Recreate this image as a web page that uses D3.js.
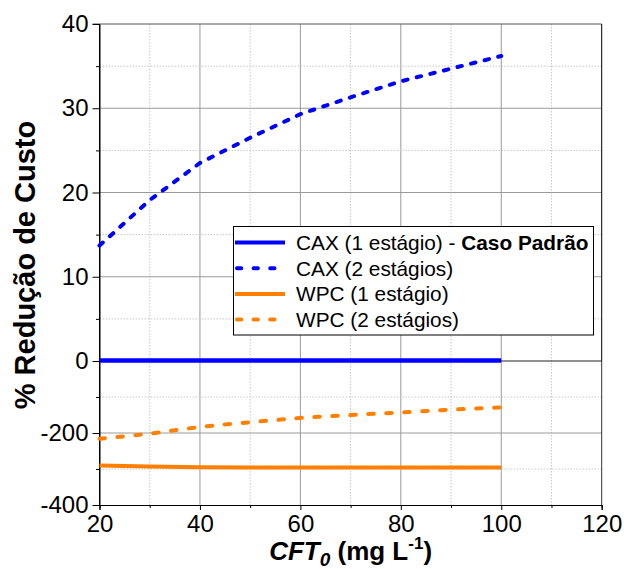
<!DOCTYPE html>
<html><head><meta charset="utf-8">
<script src="https://cdn.jsdelivr.net/npm/d3@7"></script>
<style>body{margin:0;background:#fff;}svg{display:block;}text{font-family:Arial,"Liberation Sans",sans-serif;fill:#000;}</style>
</head><body>
<svg id="c" width="624" height="569"></svg>
<script>
const xValues = [20, 30, 40, 50, 60, 70, 80, 90, 100];
const caxOne = [0, 0, 0, 0, 0, 0, 0, 0, 0];
const caxTwo = [13.7, 19.1, 23.5, 26.5, 29.3, 31.3, 33.2, 34.7, 36.2];
const wpcOne = [-290, -293, -295, -296, -296, -296, -296, -296, -296];
const wpcTwo = [-216, -202, -183, -170, -158, -150, -143, -135, -129];
const xTicks = [20, 40, 60, 80, 100, 120];
const xMinor = [30, 50, 70, 90, 110];
const topTicks = [0, 10, 20, 30, 40];
const topMinor = [5, 15, 25, 35];
const botTicks = [-400, -200];
const botMinor = [-300, -100];
const legendLabels = ["CAX (1 estágio) - ", "CAX (2 estágios)", "WPC (1 estágio)", "WPC (2 estágios)"];

const svg = d3.select("#c");
const L = 99.5, R = 601.7, T = 24, M = 361, B = 505;
const x = d3.scaleLinear().domain([20, 120]).range([L, R]);
const yT = d3.scaleLinear().domain([0, 40]).range([M, T]);
const yB = d3.scaleLinear().domain([-400, 0]).range([B, M]);
const fmt = d => String(d);

const g = svg.append("g");
// vertical gridlines
g.selectAll(".vmaj").data(xTicks.filter(d => d > 20 && d < 120)).join("line")
  .attr("x1", d => x(d)).attr("x2", d => x(d)).attr("y1", T).attr("y2", B)
  .attr("stroke", "#9a9a9a").attr("stroke-width", 1);
g.selectAll(".vmin").data(xMinor).join("line")
  .attr("x1", d => x(d)).attr("x2", d => x(d)).attr("y1", T).attr("y2", B)
  .attr("stroke", "#c8c8c8").attr("stroke-width", 1).attr("stroke-dasharray", "1.5,1.5");
// horizontal gridlines
g.selectAll(".htmaj").data([10, 20, 30]).join("line")
  .attr("x1", L).attr("x2", R).attr("y1", d => yT(d)).attr("y2", d => yT(d))
  .attr("stroke", "#9a9a9a");
g.selectAll(".htmin").data(topMinor).join("line")
  .attr("x1", L).attr("x2", R).attr("y1", d => yT(d)).attr("y2", d => yT(d))
  .attr("stroke", "#c8c8c8").attr("stroke-dasharray", "1.5,1.5");
g.selectAll(".hbmaj").data([-200]).join("line")
  .attr("x1", L).attr("x2", R).attr("y1", d => yB(d)).attr("y2", d => yB(d))
  .attr("stroke", "#9a9a9a");
g.selectAll(".hbmin").data(botMinor).join("line")
  .attr("x1", L).attr("x2", R).attr("y1", d => yB(d)).attr("y2", d => yB(d))
  .attr("stroke", "#c8c8c8").attr("stroke-dasharray", "1.5,1.5");

// frame
g.append("line").attr("x1", L - 7).attr("x2", R).attr("y1", T).attr("y2", T).attr("stroke", "#555");
g.append("line").attr("x1", R).attr("x2", R).attr("y1", T).attr("y2", M).attr("stroke", "#000");
g.append("line").attr("x1", R).attr("x2", R).attr("y1", M).attr("y2", B).attr("stroke", "#333");
g.append("line").attr("x1", L).attr("x2", R).attr("y1", M).attr("y2", M).attr("stroke", "#222");

// axes
const axL1 = d3.axisLeft(yT).tickValues(topTicks.filter(d => d > 0)).tickSize(7).tickPadding(4).tickFormat(fmt);
const axL2 = d3.axisLeft(yB).tickValues([...botTicks, 0]).tickSize(7).tickPadding(4).tickFormat(fmt);
const ga1 = svg.append("g").attr("transform", `translate(${L},0)`).call(axL1);
const ga2 = svg.append("g").attr("transform", `translate(${L},0)`).call(axL2);
svg.append("g").attr("transform", `translate(${L},0)`).call(d3.axisLeft(yT).tickValues(topMinor).tickSize(3.5).tickFormat(""));
svg.append("g").attr("transform", `translate(${L},0)`).call(d3.axisLeft(yB).tickValues(botMinor).tickSize(3.5).tickFormat(""));
const gx = svg.append("g").attr("transform", `translate(0,${B})`).call(d3.axisBottom(x).tickValues(xTicks).tickSize(5).tickPadding(5).tickFormat(fmt));
svg.append("g").attr("transform", `translate(0,${B})`).call(d3.axisBottom(x).tickValues(xMinor).tickSize(3).tickFormat(""));
svg.selectAll(".domain").attr("stroke", "#000");
svg.selectAll(".tick line").attr("stroke", "#000");
svg.selectAll(".tick text").style("font-size", "24px").style("font-family", "Arial, 'Liberation Sans', sans-serif").attr("fill", "#000");
ga1.select(".domain").remove();
ga2.select(".domain").remove();
svg.append("line").attr("x1", L).attr("x2", L).attr("y1", T).attr("y2", B).attr("stroke", "#000");

// data lines
const rows = xValues.map((d, i) => ({x: d, c1: caxOne[i], c2: caxTwo[i], w1: wpcOne[i], w2: wpcTwo[i]}));
const lineT = key => d3.line().x(d => x(d.x)).y(d => yT(d[key]));
const lineB = key => d3.line().x(d => x(d.x)).y(d => yB(d[key]));
const blue = "#0000ff", orange = "#ff8000";
svg.append("path").datum(rows).attr("d", lineB("w1")).attr("fill", "none").attr("stroke", orange).attr("stroke-width", 4);
svg.append("path").datum(rows).attr("d", lineB("w2")).attr("fill", "none").attr("stroke", orange).attr("stroke-width", 4)
  .attr("stroke-dasharray", "5.5,12.5").attr("stroke-linecap", "round");
svg.append("path").datum(rows).attr("d", lineT("c2")).attr("fill", "none").attr("stroke", blue).attr("stroke-width", 4)
  .attr("stroke-dasharray", "4.5,9.5").attr("stroke-linecap", "round");
svg.append("path").datum(rows).attr("d", lineT("c1")).attr("transform", "translate(0,-0.5)").attr("fill", "none").attr("stroke", blue).attr("stroke-width", 4.5);

// legend
const lg = svg.append("g");
lg.append("rect").attr("x", 233.5).attr("y", 226.5).attr("width", 360).attr("height", 108.5)
  .attr("fill", "#fff").attr("stroke", "#000").attr("stroke-width", 1);
const lstyles = [
  {c: blue, dash: null}, {c: blue, dash: "4.3,12.3"}, {c: orange, dash: null}, {c: orange, dash: "4.3,12.3"}
];
legendLabels.forEach((lab, i) => {
  const yy = 242.5 + i * 25.7;
  const ln = lg.append("line").attr("x1", lstyles[i].dash ? 237 : 235).attr("x2", lstyles[i].dash ? 283 : 285)
    .attr("y1", yy).attr("y2", yy).attr("stroke", lstyles[i].c).attr("stroke-width", 4);
  if (lstyles[i].dash) ln.attr("stroke-dasharray", lstyles[i].dash).attr("stroke-linecap", "round");
  const t = lg.append("text").attr("x", 296).attr("y", yy + 7.3).style("font-size", "20.8px");
  t.append("tspan").text(lab);
  if (i === 0) t.append("tspan").style("font-weight", "bold").text("Caso Padrão");
});

// axis titles
svg.append("text").attr("transform", "translate(35,265) rotate(-90)").attr("text-anchor", "middle")
  .style("font-size", "29px").style("font-weight", "bold").text("% Redução de Custo");
const xt = svg.append("text").attr("x", 350.6).attr("y", 560).attr("text-anchor", "middle")
  .style("font-size", "26px").style("font-weight", "bold");
xt.append("tspan").style("font-style", "italic").text("CFT");
xt.append("tspan").style("font-style", "italic").style("font-size", "19px").attr("dy", 6).text("0");
xt.append("tspan").attr("dy", -6).text(" (mg L");
xt.append("tspan").style("font-size", "17px").attr("dy", -11).text("-1");
xt.append("tspan").attr("dy", 11).text(")");
</script>
</body></html>
